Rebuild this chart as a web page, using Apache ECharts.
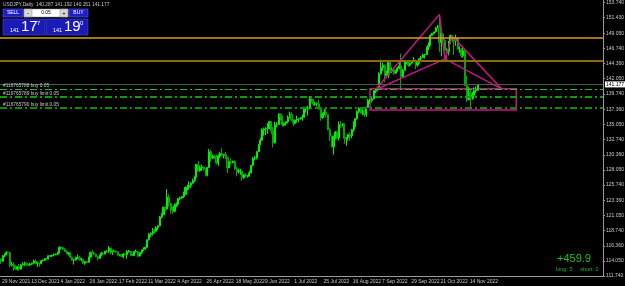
<!DOCTYPE html>
<html>
<head>
<meta charset="utf-8">
<script src="https://cdn.jsdelivr.net/npm/echarts@6/dist/echarts.min.js"></script>
<style>
  html, body { margin: 0; padding: 0; background: #000; }
  #chart { width: 625px; height: 286px; }
</style>
</head>
<body>
<div id="chart"></div>
<script>
// USDJPY Daily, one row per weekday from 19 Nov 2021: [open, close, low, high]
const candles = [
  [114.35,113.99,113.60,114.45],[114.00,114.85,113.95,114.95],[114.85,115.12,114.65,115.18],[115.12,115.40,114.95,115.52],
  [115.40,115.36,115.20,115.50],[115.36,113.38,113.05,115.38],[113.38,113.50,113.20,113.90],[113.50,113.15,112.55,113.85],
  [113.15,112.80,112.70,113.40],[112.80,113.15,112.60,113.30],[113.15,112.80,112.55,113.60],[112.80,113.45,112.75,113.60],
  [113.45,113.55,113.35,113.85],[113.55,113.70,113.30,113.95],[113.70,113.48,113.30,113.80],[113.48,113.40,113.25,113.65],
  [113.40,113.55,113.30,113.75],[113.55,113.70,113.45,113.80],[113.70,114.05,113.65,114.25],[114.05,113.70,113.65,114.30],
  [113.70,113.70,113.15,113.90],[113.70,113.62,113.15,113.75],[113.62,114.08,113.55,114.15],[114.08,114.15,113.95,114.30],
  [114.15,114.40,114.05,114.50],[114.40,114.35,114.25,114.45],[114.35,114.85,114.30,114.90],[114.85,114.85,114.65,114.95],
  [114.85,114.95,114.65,115.00],[114.95,115.05,114.75,115.20],[115.05,115.10,114.90,115.20],[115.10,115.30,115.00,115.45],
  [115.30,116.10,115.20,116.35],[116.10,116.10,115.80,116.20],[116.10,115.85,115.70,116.25],[115.85,115.55,115.45,116.05],
  [115.55,115.20,115.05,115.70],[115.20,115.30,114.90,115.35],[115.30,114.65,114.50,115.45],[114.65,114.20,114.10,114.75],
  [114.20,114.20,113.50,114.35],[114.20,114.60,114.10,114.70],[114.60,114.60,114.35,115.05],[114.60,114.30,114.10,114.80],
  [114.30,114.30,114.00,114.50],[114.30,113.70,113.60,114.30],[113.70,113.95,113.45,114.00],[113.95,113.85,113.70,114.10],
  [113.85,114.65,113.80,114.70],[114.65,115.35,114.55,115.50],[115.35,115.25,115.10,115.70],[115.25,115.10,114.95,115.50],
  [115.10,114.70,114.60,115.20],[114.70,114.45,114.15,114.80],[114.45,114.95,114.40,115.00],[114.95,115.25,114.75,115.45],
  [115.25,115.10,114.95,115.35],[115.10,115.55,115.10,115.60],[115.55,115.55,115.35,115.70],[115.55,116.05,115.25,116.35],
  [116.05,115.40,115.05,116.10],[115.40,115.55,114.95,115.65],[115.55,115.60,115.45,115.80],[115.60,115.45,115.30,115.65],
  [115.45,114.95,114.85,115.55],[114.95,115.00,114.75,115.10],[115.00,114.75,114.65,115.10],[114.75,115.10,114.45,115.25],
  [115.10,115.00,114.90,115.25],[115.00,115.50,114.40,115.70],[115.50,115.55,115.30,115.75],[115.55,114.95,114.80,115.60],
  [114.95,114.90,114.75,115.20],[114.90,115.50,114.80,115.60],[115.50,115.50,115.35,115.80],[115.50,114.80,114.65,115.55],
  [114.80,115.30,114.75,115.40],[115.30,115.65,115.10,115.80],[115.65,115.85,115.60,116.15],[115.85,116.15,115.80,116.25],
  [116.15,117.30,116.05,117.35],[117.30,118.15,117.20,118.35],[118.15,118.30,117.75,118.45],[118.30,118.70,117.95,119.10],
  [118.70,118.60,118.20,119.00],[118.60,119.15,118.45,119.40],[119.15,119.45,118.80,119.50],[119.45,120.80,119.40,120.95],
  [120.80,121.15,120.60,121.40],[121.15,122.30,121.10,122.40],[122.30,122.05,121.75,122.45],[122.05,123.85,121.95,125.09],
  [123.85,122.90,122.40,124.30],[122.90,121.80,121.30,123.00],[121.80,121.70,121.25,122.40],[121.70,122.50,121.50,122.90],
  [122.50,122.75,122.30,123.05],[122.75,123.60,122.50,123.70],[123.60,123.75,123.40,123.95],[123.75,123.95,123.60,124.05],
  [123.95,124.30,123.70,124.70],[124.30,125.35,124.20,125.45],[125.35,125.40,124.90,125.75],[125.40,125.65,125.00,126.30],
  [125.65,126.00,125.30,126.15],[126.00,126.40,125.90,126.70],[126.40,126.95,126.20,127.05],[126.95,128.90,126.85,128.95],
  [128.90,127.90,127.80,129.40],[127.90,128.40,127.75,128.70],[128.40,128.50,127.90,128.85],[128.50,128.15,127.95,128.60],
  [128.15,127.25,127.05,128.30],[127.25,128.40,127.05,128.50],[128.40,130.85,128.35,131.25],[130.85,129.85,129.30,131.15],
  [129.85,130.15,129.75,130.40],[130.15,130.10,129.75,130.30],[130.10,129.10,128.90,130.35],[129.10,130.20,128.65,130.40],
  [130.20,130.55,129.85,130.80],[130.55,130.30,130.10,131.35],[130.30,130.40,129.80,130.45],[130.40,129.95,129.75,130.80],
  [129.95,128.35,127.55,130.10],[128.35,129.20,128.35,129.40],[129.20,129.15,128.90,129.80],[129.15,129.35,129.05,129.50],
  [129.35,128.20,128.05,129.50],[128.20,127.80,127.05,128.50],[127.80,127.85,127.50,128.25],[127.85,127.90,127.30,128.20],
  [127.90,126.85,126.35,127.90],[126.85,127.30,126.65,127.45],[127.30,127.10,126.90,127.55],[127.10,127.10,126.85,127.20],
  [127.10,127.60,127.00,127.85],[127.60,128.75,127.50,128.80],[128.75,129.80,128.60,130.00],[129.80,129.90,129.50,130.20],
  [129.90,130.85,129.65,130.95],[130.85,131.90,130.80,132.00],[131.90,132.60,131.85,133.00],[132.60,134.20,132.50,134.45],
  [134.20,134.35,133.30,134.55],[134.35,134.40,133.40,134.60],[134.40,134.40,133.60,135.20],[134.40,135.45,134.30,135.60],
  [135.45,134.05,133.50,135.55],[134.05,132.20,131.50,134.65],[132.20,134.95,132.10,135.45],[134.95,135.05,134.60,135.40],
  [135.05,136.65,134.95,136.70],[136.65,136.25,135.65,136.70],[136.25,134.95,134.70,136.40],[134.95,135.20,134.75,135.40],
  [135.20,135.45,134.85,135.55],[135.45,136.10,135.20,136.40],[136.10,136.60,135.95,137.00],[136.60,135.75,135.55,136.90],
  [135.75,135.20,134.75,135.80],[135.20,135.70,135.05,135.80],[135.70,135.85,135.30,136.40],[135.85,135.90,135.35,136.00],
  [135.90,136.00,135.75,136.10],[136.00,136.10,135.60,136.55],[136.10,137.40,136.10,137.75],[137.40,137.45,136.85,137.75],
  [137.45,137.45,136.40,137.90],[137.45,138.95,137.45,139.39],[138.95,138.55,138.40,139.10],[138.55,138.15,137.90,138.90],
  [138.15,138.20,137.90,138.55],[138.20,138.20,137.80,138.40],[138.20,137.35,137.35,138.85],[137.35,136.10,135.60,137.50],
  [136.10,136.65,135.90,136.80],[136.65,136.95,136.40,137.45],[136.95,136.55,136.10,137.45],[136.55,134.25,134.10,136.60],
  [134.25,133.25,132.50,134.55],[133.25,131.60,131.50,133.35],[131.60,133.15,130.40,133.20],[133.15,133.85,132.80,134.00],
  [133.85,132.95,132.75,134.05],[132.95,135.00,132.55,135.50],[135.00,134.95,134.50,135.55],[134.95,135.10,134.70,135.25],
  [135.10,132.90,132.05,135.20],[132.90,133.00,131.75,133.10],[133.00,133.45,132.55,133.60],[133.45,133.30,132.55,133.80],
  [133.30,134.20,132.90,134.35],[134.20,135.05,133.90,135.50],[135.05,135.90,134.65,136.00],[135.90,137.00,135.75,137.20],
  [137.00,137.50,136.75,137.70],[137.50,136.75,136.65,137.65],[136.75,137.10,136.45,137.35],[137.10,136.55,136.20,137.15],
  [136.55,137.65,136.20,137.75],[137.65,138.75,137.60,139.00],[138.75,138.75,138.15,139.00],[138.75,138.95,138.40,139.10],
  [138.95,140.20,138.90,140.25],[140.20,140.20,139.85,140.40],[140.20,140.50,140.10,140.80],[140.50,142.80,140.45,143.05],
  [142.80,143.75,142.70,144.99],[143.75,144.10,143.25,144.55],[144.10,142.55,141.50,144.25],[142.55,142.80,142.25,143.25],
  [142.80,144.55,142.15,144.70],[144.55,143.20,142.55,144.95],[143.20,143.45,142.90,143.80],[143.45,142.90,142.65,143.75],
  [142.90,143.20,142.75,143.40],[143.20,143.70,143.10,143.90],[143.70,144.05,143.50,144.70],[144.05,142.35,140.35,145.90],
  [142.35,143.35,142.25,143.55],[143.35,144.75,143.30,144.80],[144.75,144.80,144.35,144.90],[144.80,144.15,143.90,144.75],
  [144.15,144.45,143.95,144.55],[144.45,144.75,144.35,144.90],[144.75,144.85,144.60,145.40],[144.85,144.15,143.55,145.00],
  [144.15,144.60,143.90,144.85],[144.60,145.15,144.35,145.25],[145.15,145.30,144.75,145.55],[145.30,145.70,145.25,145.90],
  [145.70,145.75,145.15,145.90],[145.75,146.90,145.70,146.95],[146.90,147.20,146.40,147.65],[147.20,148.70,147.10,148.85],
  [148.70,149.00,148.60,149.10],[149.00,149.25,148.85,149.25],[149.25,149.90,149.15,149.95],[149.90,150.15,149.75,150.30],
  [150.15,147.65,146.20,151.94],[147.65,148.95,145.50,149.70],[148.95,147.95,147.45,149.05],[147.95,146.40,146.20,148.10],
  [146.40,146.25,145.10,146.80],[146.25,147.50,145.65,147.85],[147.50,148.70,147.45,148.85],[148.70,148.15,147.70,148.80],
  [148.15,147.90,145.70,148.30],[147.90,148.20,147.10,148.85],[148.20,146.60,146.55,148.40],[146.60,146.60,146.05,147.05],
  [146.60,145.60,145.30,146.70],[145.60,146.40,145.30,146.80],[146.40,141.00,140.90,146.60],[141.00,138.80,138.45,142.50],
  [138.80,139.90,138.75,140.80],[139.90,139.25,137.67,140.40],[139.25,139.50,138.80,140.00],[139.50,140.20,139.00,140.70],
  [140.20,140.30,139.85,140.85],[140.287,141.177,140.151,141.192]
]
const tickLabels = ['29 Nov 2021', '13 Dec 2021', '4 Jan 2022', '26 Jan 2022', '17 Feb 2022', '11 Mar 2022',
  '4 Apr 2022', '26 Apr 2022', '18 May 2022', '9 Jun 2022', '1 Jul 2022', '25 Jul 2022', '16 Aug 2022',
  '7 Sep 2022', '29 Sep 2022', '21 Oct 2022', '14 Nov 2022']
const yTicks = [111.74, 114.05, 116.36, 118.74, 121.05, 123.36, 125.74, 128.05, 130.36, 132.74,
  135.05, 137.36, 139.74, 142.05, 144.36, 146.74, 149.05, 151.43, 153.74]
const bidPrice = 141.177
const levelUpper = 148.35
const levelLower = 144.87
const orderLevels = [140.46, 139.23, 137.58]
const orderTexts = ['#116765788 buy 0.05', '#116765789 buy limit 0.05', '#116765790 buy limit 0.05']
// harmonic pattern points [bar index, price]
const ptX = [205, 140.36]
const ptA = [240, 151.94]
const ptB = [243, 145.10]
const ptC = [247, 148.60]
const ptD = [274, 140.50]
const boxTop = [202, 140.50]
const boxBottom = [282, 137.25]

// weekdays from 19 Nov 2021 plus empty space on the right
const dates = []
let d = new Date(Date.UTC(2021, 10, 19))
while (dates.length < 330) {
  const wd = d.getUTCDay()
  if (wd !== 0 && wd !== 6) dates.push(d.toISOString().slice(0, 10))
  d = new Date(d.getTime() + 86400000)
}

const FONT = 'Liberation Sans'
const grey = '#c8c8c8'
const magenta = '#c71585'

const orderColors = ['#19c819', '#0f9a0f', '#0f8a0f']
const orderWidths = [1, 2, 2]
const showTick = i => i % 16 === 0 && i <= 256

const option = {
  backgroundColor: '#000',
  animation: false,
  textStyle: { fontFamily: FONT },
  grid: { left: 0, right: 22, top: 0, bottom: 10, outerBoundsMode: 'none', containLabel: false },
  xAxis: {
    type: 'category',
    data: dates,
    boundaryGap: true,
    axisLine: { lineStyle: { color: '#9a9a9a', width: 1 } },
    axisTick: {
      alignWithLabel: true,
      length: 3,
      lineStyle: { color: '#9a9a9a' },
      interval: showTick
    },
    axisLabel: {
      interval: showTick,
      showMinLabel: true,
      formatter: (v, i) => tickLabels[i / 16],
      color: grey,
      fontSize: 5,
      align: 'left',
      margin: 3,
      padding: [0, 0, 0, 1]
    },
    splitLine: { show: false }
  },
  yAxis: {
    type: 'value',
    position: 'right',
    min: 111.74,
    max: 154.15,
    axisLine: { show: true, lineStyle: { color: '#9a9a9a' } },
    axisTick: { show: true, length: 2, customValues: yTicks, lineStyle: { color: '#9a9a9a' } },
    axisLabel: {
      customValues: yTicks,
      formatter: v => v.toFixed(3),
      color: grey,
      fontSize: 5,
      margin: 3
    },
    splitLine: { show: false }
  },
  series: [
    {
      type: 'candlestick',
      data: candles,
      barWidth: 1.6,
      itemStyle: {
        color: '#00d800',
        borderColor: '#00f000',
        color0: '#007000',
        borderColor0: '#00a800',
        borderWidth: 1
      },
      markLine: {
        silent: true,
        symbol: 'none',
        animation: false,
        data: [
          { yAxis: levelUpper, lineStyle: { color: '#dc9e22', width: 1.5, type: 'solid' }, label: { show: false } },
          { yAxis: levelLower, lineStyle: { color: '#8c6a14', width: 2, type: 'solid' }, label: { show: false } },
          {
            yAxis: bidPrice,
            lineStyle: { color: '#555', width: 1, type: 'solid' },
            label: {
              show: true, position: 'end', formatter: bidPrice.toFixed(3),
              backgroundColor: '#fff', color: '#000', fontSize: 5, padding: [1, 1, 0, 1], distance: 2
            }
          }
        ].concat(orderLevels.map((p, k) => ({
          yAxis: p,
          lineStyle: { color: orderColors[k], width: orderWidths[k], type: [7, 3, 2, 3] },
          label: {
            show: true, position: 'insideStartTop', formatter: orderTexts[k],
            color: grey, fontSize: 4.8, distance: [3, 1]
          }
        })))
      }
    },
    {
      type: 'line',
      data: [ptX, ptA, ptB, ptX],
      symbol: 'none',
      silent: true,
      lineStyle: { color: magenta, width: 1.5 },
      markArea: {
        silent: true,
        itemStyle: { color: 'rgba(0,0,0,0)', borderColor: magenta, borderWidth: 1.5 },
        data: [[{ xAxis: boxTop[0], yAxis: boxTop[1] }, { xAxis: boxBottom[0], yAxis: boxBottom[1] }]]
      }
    },
    {
      type: 'line',
      data: [ptB, ptC, ptD, ptB],
      symbol: 'none',
      silent: true,
      lineStyle: { color: magenta, width: 1.5 }
    }
  ],
  graphic: [
    { type: 'text', left: 3, top: 2, style: { text: 'USDJPY,Daily  140.287 141.192 140.151 141.177', fill: grey, font: '4.8px ' + FONT } },
    // trade panel
    { type: 'rect', shape: { x: 3, y: 9, width: 20, height: 8 }, style: { fill: '#1e1ec8', stroke: '#6a6aff', lineWidth: 0.5 } },
    { type: 'text', x: 13, y: 13, style: { text: 'SELL', fill: '#fff', font: '5px ' + FONT, align: 'center', verticalAlign: 'middle' } },
    { type: 'rect', shape: { x: 24, y: 9, width: 44, height: 8 }, style: { fill: '#fff', stroke: '#888', lineWidth: 0.5 } },
    { type: 'rect', shape: { x: 24, y: 9, width: 8, height: 8 }, style: { fill: '#d8d8d8', stroke: '#888', lineWidth: 0.5 } },
    { type: 'rect', shape: { x: 60, y: 9, width: 8, height: 8 }, style: { fill: '#d8d8d8', stroke: '#888', lineWidth: 0.5 } },
    { type: 'text', x: 28, y: 13, style: { text: '-', fill: '#000', font: '6px ' + FONT, align: 'center', verticalAlign: 'middle' } },
    { type: 'text', x: 64, y: 13, style: { text: '+', fill: '#000', font: '6px ' + FONT, align: 'center', verticalAlign: 'middle' } },
    { type: 'text', x: 46, y: 13, style: { text: '0.05', fill: '#000', font: '5px ' + FONT, align: 'center', verticalAlign: 'middle' } },
    { type: 'rect', shape: { x: 69, y: 9, width: 19, height: 8 }, style: { fill: '#1e1ec8', stroke: '#6a6aff', lineWidth: 0.5 } },
    { type: 'text', x: 78.5, y: 13, style: { text: 'BUY', fill: '#fff', font: '5px ' + FONT, align: 'center', verticalAlign: 'middle' } },
    { type: 'rect', shape: { x: 3, y: 19, width: 42, height: 16 }, style: { fill: '#1a1ab8', stroke: '#5050ff', lineWidth: 0.5 } },
    { type: 'rect', shape: { x: 46, y: 19, width: 42, height: 16 }, style: { fill: '#1a1ab8', stroke: '#5050ff', lineWidth: 0.5 } },
    { type: 'text', x: 10, y: 27, style: { text: '141', fill: '#fff', font: '5.5px ' + FONT } },
    { type: 'text', x: 21, y: 19, style: { text: '17', fill: '#fff', font: '15px ' + FONT } },
    { type: 'text', x: 37, y: 20, style: { text: '7', fill: '#fff', font: '6px ' + FONT } },
    { type: 'text', x: 53, y: 27, style: { text: '141', fill: '#fff', font: '5.5px ' + FONT } },
    { type: 'text', x: 64, y: 19, style: { text: '19', fill: '#fff', font: '15px ' + FONT } },
    { type: 'text', x: 80, y: 20, style: { text: '0', fill: '#fff', font: '6px ' + FONT } },
    // account info
    { type: 'text', x: 557, y: 253, style: { text: '+459.9', fill: '#1fc21f', font: '11px ' + FONT } },
    { type: 'text', x: 556, y: 266, style: { text: 'long: 5     short: 0', fill: '#1fb01f', font: '5.5px ' + FONT } }
  ]
}

const myChart = echarts.init(document.getElementById('chart'), null, { renderer: 'canvas' })
myChart.setOption(option)
</script>
</body>
</html>
